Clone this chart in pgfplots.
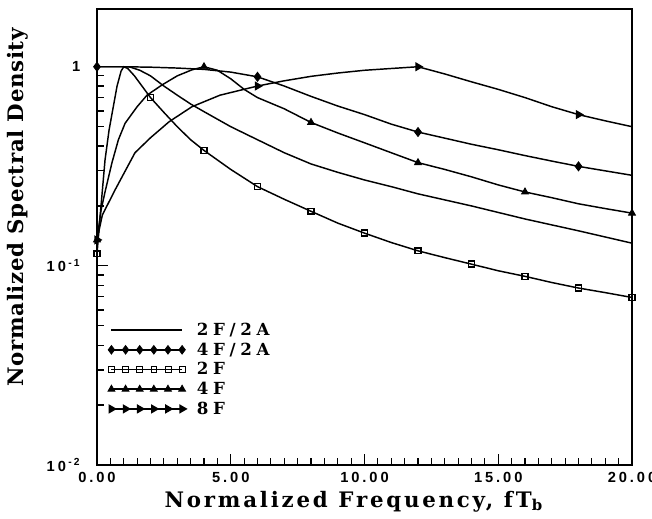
\documentclass[border=0pt]{standalone}
\usepackage{fontspec}
\setmainfont{Liberation Serif}
\newfontfamily\ticksf[LetterSpace=20]{Liberation Sans}
\newfontfamily\labelf[LetterSpace=3]{DejaVu Serif}
\newfontfamily\labelfx[LetterSpace=13]{DejaVu Serif}
\newfontfamily\legf[LetterSpace=28]{DejaVu Serif}
\usepackage{pgfplots}
\usepackage{pgfplotstable}
\pgfplotsset{compat=1.18}

% normalized spectral density
\pgfplotstableread{
x y
0 1
1.2 1
1.6 0.96
2 0.9
2.5 0.8
3 0.72
3.5 0.65
4 0.595
5 0.5
6 0.43
7 0.37
8 0.325
9 0.295
10 0.27
11 0.25
12 0.23
14 0.2
16 0.172
18 0.15
20 0.13
}\tFFA
\pgfplotstableread{
x y
0 1
1 1
2 0.995
3 0.985
4 0.97
5 0.94
6 0.89
7 0.8
8 0.71
9 0.635
10 0.575
11 0.515
12 0.47
13 0.438
14 0.408
15 0.383
16 0.358
17 0.336
18 0.316
19 0.3
20 0.285
}\tFourFA
\pgfplotstableread{
x y
0 0.115
0.15 0.2
0.3 0.34
0.45 0.48
0.6 0.62
0.75 0.8
0.9 0.95
1.0 1.0
1.15 0.98
1.4 0.9
2 0.70
2.5 0.59
3 0.50
3.5 0.43
4 0.38
5 0.305
6 0.25
7 0.216
8 0.188
9 0.164
10 0.146
11 0.131
12 0.119
13 0.110
14 0.102
15 0.0945
16 0.0886
17 0.0825
18 0.0774
19 0.0734
20 0.0694
}\tTwoF
\pgfplotstableread{
x y
0 0.135
0.15 0.19
0.3 0.235
0.56 0.33
0.8 0.43
1.05 0.52
1.5 0.63
1.87 0.72
2.43 0.81
3 0.9
3.55 0.965
4 1.0
4.5 0.96
5 0.87
5.5 0.77
6 0.70
7 0.615
8 0.525
9 0.465
10 0.415
11 0.37
12 0.33
13 0.305
14 0.28
15 0.255
16 0.235
17 0.22
18 0.205
19 0.194
20 0.184
}\tFourF
\pgfplotstableread{
x y
0 0.135
0.2 0.18
0.67 0.24
1.42 0.37
2 0.44
2.7 0.53
3.55 0.63
4.6 0.72
6 0.8
7 0.85
8 0.895
9 0.93
10 0.96
11 0.98
12 1.0
13 0.92
14 0.84
15 0.77
16 0.70
17 0.63
18 0.575
19 0.535
20 0.5
}\tEightF

\newcommand{\legimg}[1]{\draw[black,line width=1.1pt,mark options={solid,line width=0.6pt},mark indices={1,2,3,4,5,6},#1] plot coordinates {(0pt,0pt) (10.6pt,0pt) (21.2pt,0pt) (31.8pt,0pt) (42.4pt,0pt) (53pt,0pt)};}

\begin{document}
\begin{tikzpicture}
\begin{axis}[
name=ax, at={(0,0)}, anchor=south west,
scale only axis, width=401.25pt, height=342pt,
xmin=0, xmax=20, ymode=log, ymin=0.01, ymax=1.95,
xtick={0,5,10,15,20}, xticklabels={0.00,5.00,10.00,15.00,20.00},
minor x tick num=9,
ytick={0.01,0.1,1}, yticklabels={10\,\textsuperscript{-2},10\,\textsuperscript{-1},1},
minor ytick={0.02,0.03,0.04,0.05,0.06,0.07,0.08,0.09,0.2,0.3,0.4,0.5,0.6,0.7,0.8,0.9},
tick pos=left, tick align=inside,
major tick length=8pt, minor tick length=5pt,
tick style={black, line width=0.9pt},
axis line style={line width=1.2pt},
tick label style={font=\ticksf\bfseries\fontsize{11}{13}\selectfont},
xticklabel style={yshift=-2pt},
yticklabel style={xshift=-9pt},
xlabel={Normalized\hspace{0.5em}Frequency,\hspace{0.5em}fT\textsubscript{b}},
ylabel={Normalized Spectral Density},
xlabel style={font=\labelfx\bfseries\fontsize{16}{18}\selectfont, at={(axis description cs:0.48,-0.08)}, anchor=center},
ylabel style={font=\labelf\bfseries\fontsize{16}{18}\selectfont, at={(axis description cs:-0.148,0.565)}, anchor=center},
legend style={draw=none, fill=none, at={(0.02,0.318)}, anchor=north west,
  font=\legf\bfseries\fontsize{12.5}{15}\selectfont, row sep=0pt, column sep=6pt, inner sep=0pt,
  cells={anchor=west}},
legend cell align=left,
every axis plot/.append style={black, line width=1.1pt, mark options={solid,line width=0.6pt}},
]
\addplot[mark=none, legend image code/.code={\legimg{}}] table {\tFFA};
\addlegendentry{2F/2A}
\addplot[mark=diamond*, mark size=3.4pt, mark indices={1,7,13,19},
  legend image code/.code={\legimg{mark=diamond*,mark size=3.2pt}}] table {\tFourFA};
\addlegendentry{4F/2A}
\addplot[mark=square, mark size=2.2pt, mark options={fill=white},
  mark indices={1,11,15,17,19,21,23,25,27,29,31},
  legend image code/.code={\legimg{mark=square,mark size=2.2pt}}] table {\tTwoF};
\addlegendentry{2F}
\addplot[mark=triangle*, mark size=3pt, mark indices={1,12,18,22,26,30},
  legend image code/.code={\legimg{mark=triangle*,mark size=3pt}}] table {\tFourF};
\addlegendentry{4F}
\addplot[mark=triangle*, mark size=3pt, mark options={rotate=-90}, mark indices={1,9,15,21},
  legend image code/.code={\legimg{mark=triangle*,mark size=3pt,mark options={rotate=-90}}}] table {\tEightF};
\addlegendentry{8F}
\end{axis}
\pgfresetboundingbox
\path[use as bounding box] ([xshift=-72.75pt,yshift=-40.5pt]ax.south west) rectangle ([xshift=15pt,yshift=6.75pt]ax.north east);
\end{tikzpicture}
\end{document}
